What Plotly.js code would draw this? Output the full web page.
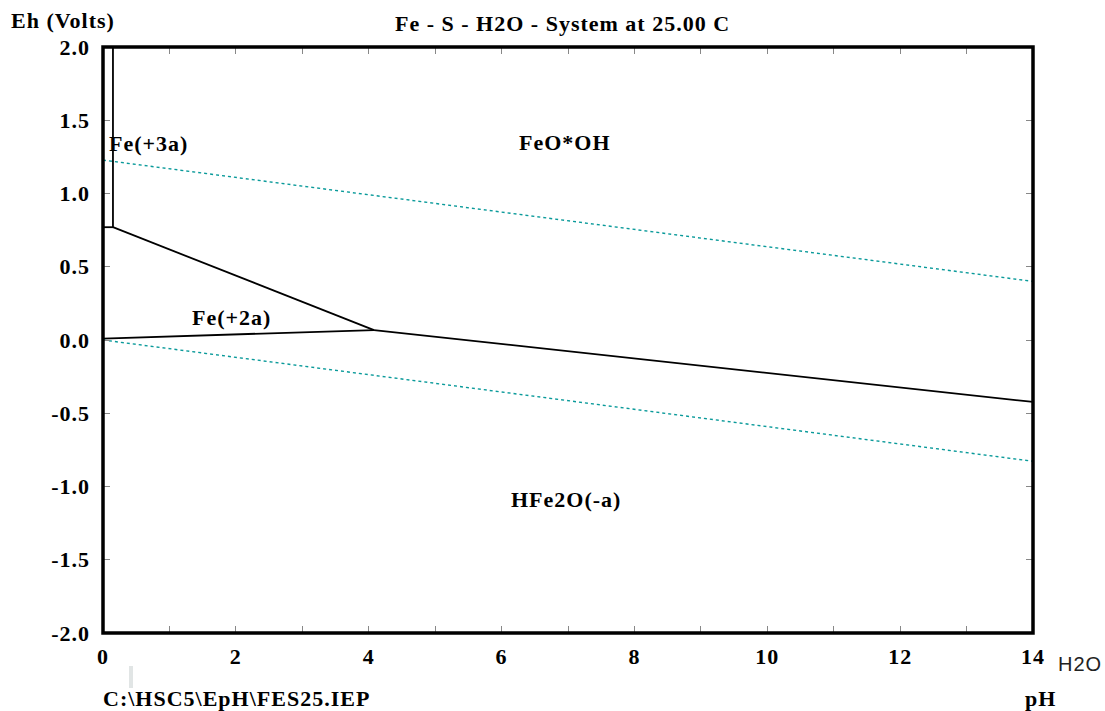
<!DOCTYPE html>
<html>
<head>
<meta charset="utf-8">
<script src="https://cdn.plot.ly/plotly-3.0.1.min.js"></script>
<style>
html,body{margin:0;padding:0;background:#fff}
#chart{width:1105px;height:711px}
svg text{letter-spacing:1px}
</style>
</head>
<body>
<div id="chart"></div>
<script>
// Boundary lines (pH, Eh)
const fe3FeoohPH = [0.15, 0.15];
const fe3FeoohEh = [2.0, 0.77];
const fe3Fe2PH = [0, 0.15];
const fe3Fe2Eh = [0.77, 0.77];
const fe2FeoohPH = [0.15, 4.08];
const fe2FeoohEh = [0.77, 0.068];
const fe2HfeoPH = [0, 4.08];
const fe2HfeoEh = [0.01, 0.068];
const feoohHfeoPH = [4.08, 14];
const feoohHfeoEh = [0.068, -0.423];
// Water stability lines
const waterUpperPH = [0, 14];
const waterUpperEh = [1.228, 0.40];
const waterLowerPH = [0, 14];
const waterLowerEh = [0.0, -0.828];
// Region labels
const regionNames = ["Fe(+3a)", "FeO*OH", "Fe(+2a)", "HFe2O(-a)"];
const regionPH = [0.69, 6.95, 1.94, 6.97];
const regionEh = [1.34, 1.35, 0.157, -1.09];
// Tick labels
const xTickVals = [0, 2, 4, 6, 8, 10, 12, 14];
const xTickText = ["0", "2", "4", "6", "8", "10", "12", "14"];
const yTickVals = [2.0, 1.5, 1.0, 0.5, 0.0, -0.5, -1.0, -1.5, -2.0];
const yTickText = ["2.0", "1.5", "1.0", "0.5", "0.0", "-0.5", "-1.0", "-1.5", "-2.0"];

const serif = "Liberation Serif, Times New Roman, serif";
const boundary = {color: "#000", width: 1.8};
const water = {color: "#0a9a9a", width: 1.4, dash: "dot"};

function line(x, y, l) {
  return {x: x, y: y, mode: "lines", line: l, hoverinfo: "skip", showlegend: false, type: "scatter"};
}

const traces = [
  line(fe3FeoohPH, fe3FeoohEh, boundary),
  line(fe3Fe2PH, fe3Fe2Eh, boundary),
  line(fe2FeoohPH, fe2FeoohEh, boundary),
  line(fe2HfeoPH, fe2HfeoEh, boundary),
  line(feoohHfeoPH, feoohHfeoEh, boundary),
  line(waterUpperPH, waterUpperEh, water),
  line(waterLowerPH, waterLowerEh, water)
];

const boldFont = {family: serif, size: 22, color: "#000", weight: "bold"};
const annotations = regionNames.map((t, i) => ({
  x: regionPH[i], y: regionEh[i], xref: "x", yref: "y", text: t, showarrow: false,
  font: boldFont
}));
annotations.push(
  {text: "Fe - S - H2O - System at 25.00 C", showarrow: false, font: boldFont},
  {text: "Eh (Volts)", showarrow: false, font: boldFont},
  {text: "H2O", showarrow: false, font: {family: "Liberation Sans, Arial, sans-serif", size: 20, color: "#222"}},
  {text: "C:\\HSC5\\EpH\\FES25.IEP", showarrow: false, font: boldFont},
  {text: "pH", showarrow: false, font: boldFont}
);
// pixel placements for the page-level texts
const W = 1105, H = 711, L = 103, R = 72, T = 47, B = 78;
const pw = W - L - R, ph = H - T - B;
function px(x) { return (x - L) / pw; }
function py(y) { return (H - B - y) / ph; }
const pagePos = [[562, 24, "center"], [9, 20, "left"], [1056, 664, "left"], [101, 699, "left"], [1040, 699, "center"]];
for (let i = 0; i < pagePos.length; i++) {
  const a = annotations[regionNames.length + i];
  a.xref = "paper"; a.yref = "paper";
  a.x = px(pagePos[i][0]); a.y = py(pagePos[i][1]);
  a.xanchor = pagePos[i][2]; a.yanchor = "middle";
}

const tickFont = {family: serif, size: 22, color: "#000", weight: "bold"};
const layout = {
  width: W, height: H,
  margin: {l: L, r: R, t: T, b: B, pad: 0},
  paper_bgcolor: "#fff", plot_bgcolor: "#fff",
  showlegend: false,
  xaxis: {
    range: [0, 14], showgrid: false, zeroline: false, showline: false,
    tickvals: xTickVals, ticktext: xTickText,
    ticks: "inside", ticklen: 7, tickcolor: "#888", tickwidth: 1, mirror: "allticks",
    minor: {dtick: 1, ticks: "inside", ticklen: 7, tickcolor: "#888", tickwidth: 1},
    tickfont: tickFont,
    ticklabelstandoff: 8
  },
  yaxis: {
    range: [-2, 2], showgrid: false, zeroline: false, showline: false,
    tickvals: yTickVals, ticktext: yTickText,
    ticks: "inside", ticklen: 7, tickcolor: "#888", tickwidth: 1, mirror: "allticks",
    tickfont: tickFont,
    ticklabelstandoff: 12
  },
  shapes: [
    {type: "rect", xref: "paper", yref: "paper", x0: 0, x1: 1, y0: 0, y1: 1,
     line: {color: "#000", width: 3.5}, fillcolor: "rgba(0,0,0,0)"},
    {type: "rect", xref: "paper", yref: "paper", x0: px(129), x1: px(133), y0: py(688), y1: py(666),
     line: {width: 0}, fillcolor: "rgba(170,180,180,0.35)"}
  ],
  annotations: annotations
};

Plotly.newPlot("chart", traces, layout, {displayModeBar: false, staticPlot: true});
</script>
</body>
</html>
